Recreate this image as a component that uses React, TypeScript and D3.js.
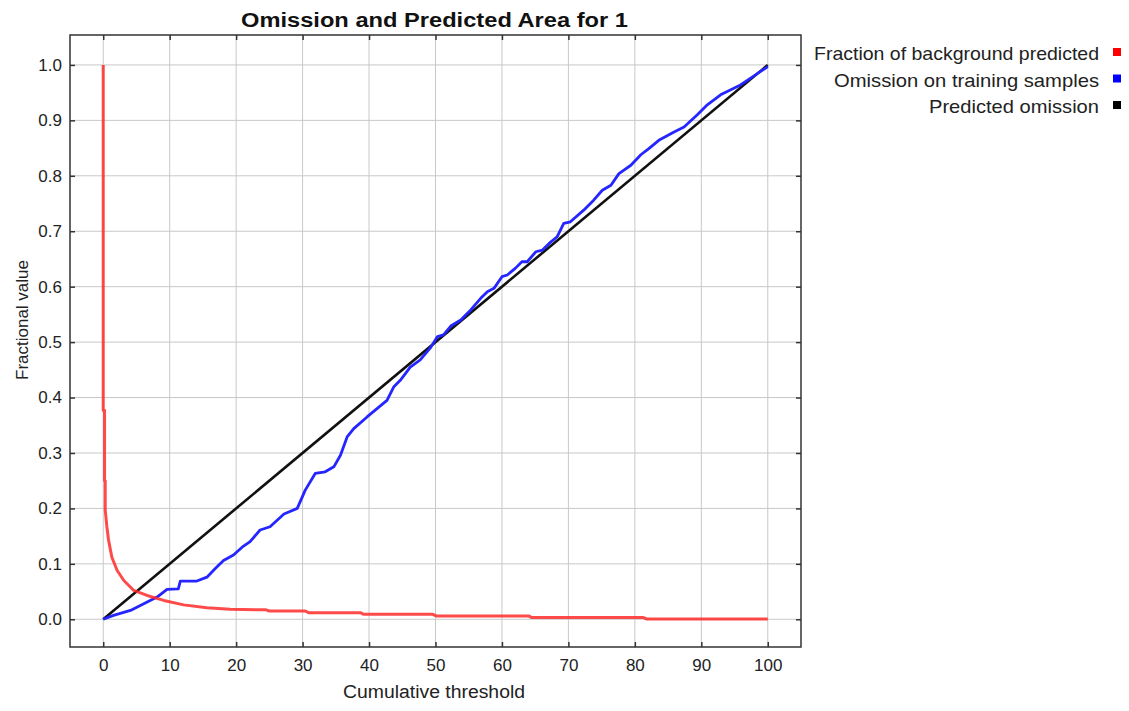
import React, { useRef, useEffect } from "react";
import * as d3 from "d3";

// tick values on both axes
const xTicks = [0, 10, 20, 30, 40, 50, 60, 70, 80, 90, 100];
const yTicks = [0, 0.1, 0.2, 0.3, 0.4, 0.5, 0.6, 0.7, 0.8, 0.9, 1.0];

// Fraction of background predicted (red)
const bgThreshold = [0, 0, 0.2, 0.2, 0.3, 0.3, 0.55, 0.8, 1.3, 2.1, 3.1, 4.6, 6.6, 9.1, 12.1, 15.6, 19.1, 24.5, 25, 30.4, 30.9, 38.7, 39.2, 49.6, 50.1, 64, 64.5, 81.3, 81.8, 100];
const bgValue = [1, 0.377, 0.377, 0.25, 0.25, 0.197, 0.167, 0.143, 0.112, 0.088, 0.07, 0.052, 0.043, 0.034, 0.026, 0.021, 0.018, 0.017, 0.015, 0.015, 0.012, 0.012, 0.009, 0.009, 0.006, 0.006, 0.003, 0.003, 0.0005, 0.0005];

// Omission on training samples (blue)
const trainThreshold = [0, 1.55, 4.1, 6.1, 8.1, 9.6, 11.3, 11.6, 14.1, 15.6, 16.9, 18.1, 19.6, 20.9, 22.1, 23.6, 25.1, 27.2, 29.2, 30.4, 31.9, 33.4, 34.7, 35.7, 36.7, 37.7, 39.7, 41.2, 42.7, 43.7, 44.7, 46.2, 47.7, 49.2, 50.3, 51.2, 52.3, 53.8, 55.3, 56.8, 57.8, 58.8, 60, 60.8, 62, 63, 63.8, 65.1, 66.1, 67.1, 68.3, 69.3, 70.3, 72.3, 73.8, 75.1, 76.4, 77.6, 79.4, 80.9, 82.1, 83.6, 85.9, 87.4, 89.4, 90.9, 92.9, 94.9, 95.9, 100];
const trainValue = [0, 0.007, 0.016, 0.028, 0.04, 0.054, 0.055, 0.069, 0.069, 0.076, 0.092, 0.106, 0.116, 0.13, 0.14, 0.161, 0.167, 0.19, 0.2, 0.233, 0.263, 0.266, 0.275, 0.296, 0.329, 0.344, 0.365, 0.38, 0.395, 0.419, 0.431, 0.455, 0.468, 0.489, 0.51, 0.513, 0.529, 0.54, 0.558, 0.579, 0.591, 0.597, 0.618, 0.621, 0.633, 0.645, 0.645, 0.663, 0.666, 0.678, 0.69, 0.714, 0.717, 0.738, 0.756, 0.774, 0.783, 0.804, 0.819, 0.838, 0.849, 0.864, 0.879, 0.888, 0.91, 0.928, 0.946, 0.958, 0.964, 0.997];

// Predicted omission (black)
const predThreshold = [0, 100];
const predValue = [0, 1];

const legendLabels = ["Fraction of background predicted", "Omission on training samples", "Predicted omission"];
const legendColors = ["#ff0000", "#0000ff", "#000000"];
const legendWidths = [285, 265, 170];

const FONT = "'Liberation Sans', Arial, sans-serif";

const App = () => {
  const svgRef = useRef<SVGSVGElement>(null);

  useEffect(() => {
    const width = 1129;
    const height = 711;
    const left = 70, right = 801, top = 35, bottom = 647;

    const svg = d3.select(svgRef.current);
    svg.selectAll("*").remove();

    const x = d3.scaleLinear().domain([-5, 105]).range([left, right]);
    const y = d3.scaleLinear().domain([-0.05, 1.054]).range([bottom, top]);

    svg.append("rect").attr("width", width).attr("height", height).attr("fill", "#fff");

    // grid
    const grid = svg.append("g").attr("stroke", "#c8c8c8").attr("stroke-width", 1);
    grid.selectAll(".gx").data(xTicks).join("line")
      .attr("x1", d => x(d)).attr("x2", d => x(d)).attr("y1", top).attr("y2", bottom);
    grid.selectAll(".gy").data(yTicks).join("line")
      .attr("y1", d => y(d)).attr("y2", d => y(d)).attr("x1", left).attr("x2", right);

    // axes, ticks pointing inward on all four sides
    const styleAxis = (g) => {
      g.select(".domain").remove();
      g.selectAll("line").attr("stroke", "#333").attr("stroke-width", 1.5);
      g.selectAll("text").attr("font-family", FONT).attr("font-size", 17).attr("fill", "#222");
    };
    svg.append("g").attr("transform", `translate(0,${bottom})`)
      .call(d3.axisBottom(x).tickValues(xTicks).tickSize(-5).tickPadding(12).tickFormat(d3.format("d")))
      .call(styleAxis);
    svg.append("g").attr("transform", `translate(0,${top})`)
      .call(d3.axisTop(x).tickValues(xTicks).tickSize(-5).tickFormat(() => ""))
      .call(styleAxis);
    svg.append("g").attr("transform", `translate(${left},0)`)
      .call(d3.axisLeft(y).tickValues(yTicks).tickSize(-5).tickPadding(8).tickFormat(d3.format(".1f")))
      .call(styleAxis);
    svg.append("g").attr("transform", `translate(${right},0)`)
      .call(d3.axisRight(y).tickValues(yTicks).tickSize(-5).tickFormat(() => ""))
      .call(styleAxis);

    // lines
    const line = d3.line<[number, number]>().x(d => x(d[0])).y(d => y(d[1]));
    const plot = svg.append("g").attr("fill", "none").attr("stroke-linejoin", "round");
    plot.append("path")
      .attr("d", line(predThreshold.map((t, i) => [t, predValue[i]])))
      .attr("stroke", "#111").attr("stroke-width", 2.6);
    plot.append("path")
      .attr("d", line(trainThreshold.map((t, i) => [t, trainValue[i]])))
      .attr("stroke", "#2525ff").attr("stroke-width", 2.8);
    plot.append("path")
      .attr("d", line(bgThreshold.map((t, i) => [t, bgValue[i]])))
      .attr("stroke", "#ff2a2a").attr("stroke-opacity", 0.85).attr("stroke-width", 3);

    // frame
    svg.append("rect")
      .attr("x", left).attr("y", top).attr("width", right - left).attr("height", bottom - top)
      .attr("fill", "none").attr("stroke", "#333").attr("stroke-width", 1.5);

    // title and axis labels
    svg.append("text").attr("x", 434.5).attr("y", 26.5)
      .attr("text-anchor", "middle").attr("font-family", FONT).attr("font-weight", "bold")
      .attr("font-size", 20).attr("fill", "#111")
      .attr("textLength", 387).attr("lengthAdjust", "spacingAndGlyphs")
      .text("Omission and Predicted Area for 1");
    svg.append("text").attr("x", 434).attr("y", 698)
      .attr("text-anchor", "middle").attr("font-family", FONT)
      .attr("font-size", 18).attr("fill", "#222")
      .attr("textLength", 182).attr("lengthAdjust", "spacingAndGlyphs")
      .text("Cumulative threshold");
    svg.append("text").attr("transform", `translate(28,320) rotate(-90)`)
      .attr("text-anchor", "middle").attr("font-family", FONT)
      .attr("font-size", 17).attr("fill", "#222")
      .attr("textLength", 120).attr("lengthAdjust", "spacingAndGlyphs")
      .text("Fractional value");

    // legend
    const legend = svg.append("g");
    legendLabels.forEach((label, i) => {
      const cy = 52 + i * 26.5;
      legend.append("text").attr("x", 1099).attr("y", cy + 8)
        .attr("text-anchor", "end").attr("font-family", FONT)
        .attr("font-size", 19).attr("fill", "#222")
        .attr("textLength", legendWidths[i]).attr("lengthAdjust", "spacingAndGlyphs")
        .text(label);
      legend.append("rect").attr("x", 1113).attr("y", cy - 4).attr("width", 8).attr("height", 8)
        .attr("fill", legendColors[i]);
    });
  }, []);

  return (
    <svg ref={svgRef} width={1129} height={711}
      style={{ position: "absolute", left: 0, top: 0, display: "block" }} />
  );
};

export default App;
